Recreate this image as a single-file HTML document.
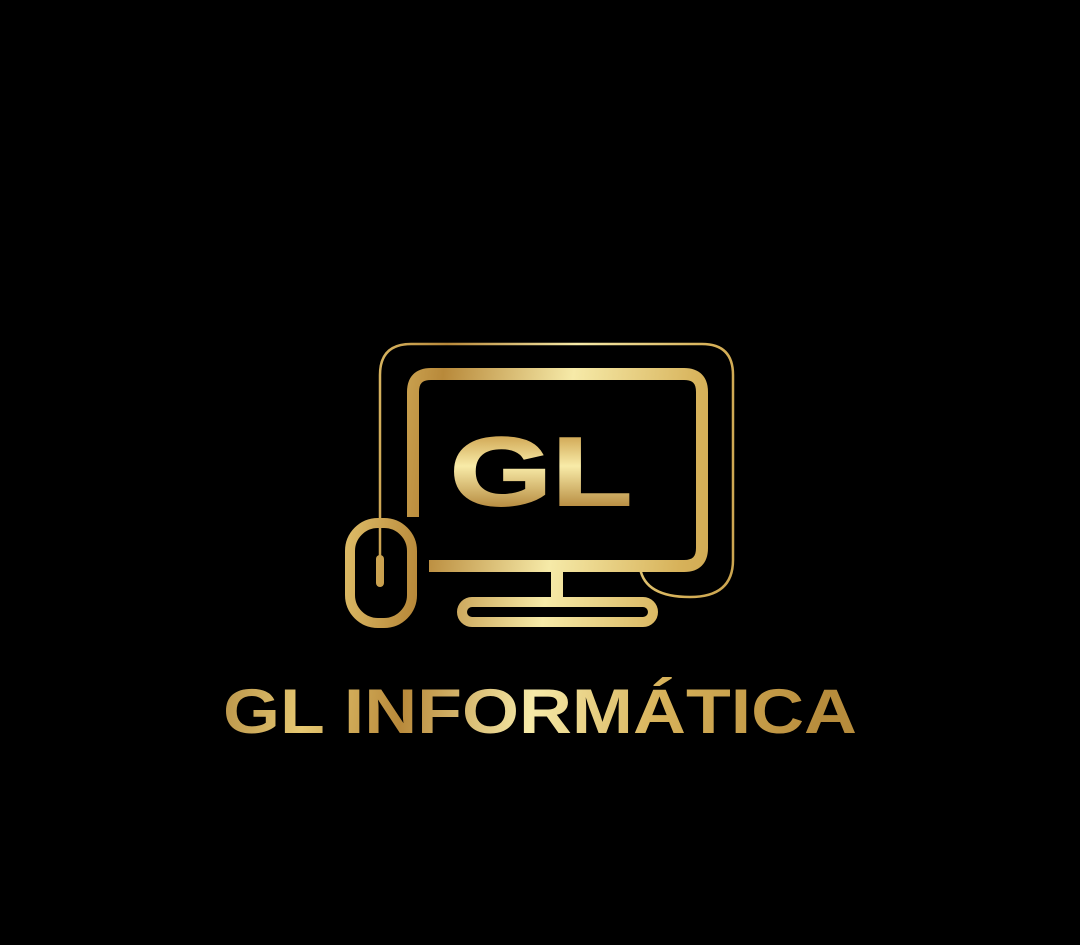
<!DOCTYPE html>
<html><head><meta charset="utf-8"><style>
html,body{margin:0;padding:0;background:#000;}
svg{display:block}
</style></head><body>
<svg width="1080" height="945" viewBox="0 0 1080 945">
<defs>
<linearGradient id="gold" gradientUnits="userSpaceOnUse" x1="220" y1="340" x2="860" y2="420">
<stop offset="0" stop-color="#a37a35"/>
<stop offset="0.2" stop-color="#e6c872"/>
<stop offset="0.35" stop-color="#b8893a"/>
<stop offset="0.55" stop-color="#f6eaa8"/>
<stop offset="0.75" stop-color="#d7b25a"/>
<stop offset="1" stop-color="#b78c3c"/>
</linearGradient>
<linearGradient id="goldv" gradientUnits="userSpaceOnUse" x1="0" y1="430" x2="0" y2="510">
<stop offset="0" stop-color="#c99b45"/>
<stop offset="0.45" stop-color="#f8eba8"/>
<stop offset="1" stop-color="#b3863a"/>
</linearGradient>
</defs>
<rect width="1080" height="945" fill="#000"/>
<path d="M380 556 L380 375 Q380 344 411 344 L702 344 Q733 344 733 375 L733 560 Q733 597 690 597 Q645 597 640 568" fill="none" stroke="url(#gold)" stroke-width="2.5"/>
<path d="M413 517 L413 392 Q413 374 431 374 L684 374 Q702 374 702 392 L702 548 Q702 566 684 566 L429 566" fill="none" stroke="url(#gold)" stroke-width="12"/>
<rect x="551" y="566" width="12" height="32" fill="url(#gold)"/>
<rect x="462" y="602" width="191" height="20" rx="10" fill="none" stroke="url(#gold)" stroke-width="10"/>
<rect x="350" y="523" width="62" height="100" rx="28" fill="none" stroke="url(#gold)" stroke-width="10"/>
<rect x="376" y="555" width="8" height="32" rx="4" fill="url(#gold)"/>
<text x="450" y="505" textLength="182" lengthAdjust="spacingAndGlyphs" font-family="Liberation Sans, sans-serif" font-weight="bold" font-size="97" fill="url(#goldv)" stroke="url(#goldv)" stroke-width="2">GL</text>
<text x="223" y="733" textLength="634" lengthAdjust="spacingAndGlyphs" font-family="Liberation Sans, sans-serif" font-weight="bold" font-size="63" fill="url(#gold)">GL INFORMÁTICA</text>
</svg>
</body></html>
